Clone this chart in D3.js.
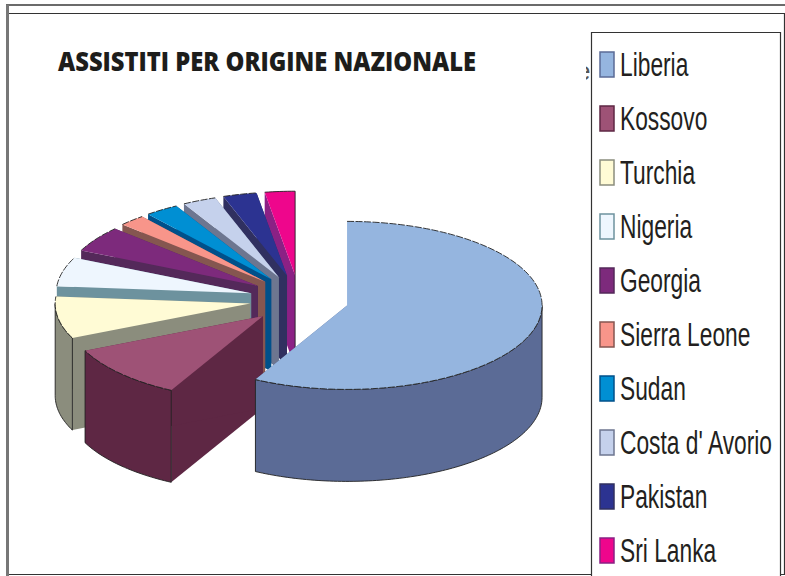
<!DOCTYPE html>
<html>
<head>
<meta charset="utf-8">
<script src="https://cdn.jsdelivr.net/npm/d3@7"></script>
<style>
  html, body { margin: 0; padding: 0; background: #fff; overflow: hidden; }
</style>
</head>
<body>
<div id="chart"></div>
<script>
var titleText = "ASSISTITI PER ORIGINE NAZIONALE";
var categories = ["Liberia", "Kossovo", "Turchia", "Nigeria", "Georgia", "Sierra Leone", "Sudan", "Costa d' Avorio", "Pakistan", "Sri Lanka"];
var shares = [57.9, 10.5, 8.1, 5.6, 5.0, 2.2, 2.8, 2.8, 2.8, 2.5];
var topColors = ["#95b5df", "#9e5276", "#fffbd5", "#eef6fe", "#7d2a7c", "#f8958a", "#008fd3", "#c5d1ec", "#2c3391", "#ee068c"];
var sideColors = ["#5b6b96", "#5e2744", "#8b8d7d", "#6d929e", "#54295a", "#855650", "#00508a", "#6d7690", "#303060", "#8b2185"];

var width = 785,
    height = 576;

var svg = d3.select("#chart").append("svg")
    .attr("width", width)
    .attr("height", height)
    .style("display", "block");

// frame
svg.append("path").attr("d", "M6,5H785").attr("stroke", "#6b6b6b").attr("stroke-width", 2).attr("fill", "none");
svg.append("path").attr("d", "M7.5,5V576").attr("stroke", "#777").attr("stroke-width", 3).attr("fill", "none");
svg.append("path").attr("d", "M9,13.5H784.5V574.5H9").attr("stroke", "#333").attr("stroke-width", 1.2).attr("fill", "none");

// title
svg.append("text")
    .attr("x", 58)
    .attr("y", 71)
    .attr("textLength", 418)
    .attr("lengthAdjust", "spacingAndGlyphs")
    .style("font-family", "'Open Sans', sans-serif")
    .style("font-weight", 800)
    .style("font-size", "27px")
    .style("fill", "#1d1d1b")
    .text(titleText);

// pie: unit coordinates run through the two scales, depth is added in pixels
var x = d3.scaleLinear().domain([-1, 1]).range([104, 494]);
var y = d3.scaleLinear().domain([-1, 1]).range([215.5, 383.5]);
var depth = 92,
    explodeX = 0.254,
    explodeY = 0.29;

var pie = d3.pie().sort(null).value(function(d) { return d; });
var arcs = pie(shares);

function apex(d) {
  var mid = (d.startAngle + d.endAngle) / 2;
  return [explodeX * Math.sin(mid), -explodeY * Math.cos(mid)];
}

function rim(d, a, dz) {
  var c = apex(d);
  return [x(c[0] + Math.sin(a)), y(c[1] - Math.cos(a)) + (dz || 0)];
}

function rimPoints(d, a0, a1, dz) {
  var n = Math.max(2, Math.ceil((a1 - a0) / 0.02));
  return d3.range(n + 1).map(function(i) {
    return rim(d, a0 + (a1 - a0) * i / n, dz);
  });
}

var line = d3.line();
var g = svg.append("g");

// painter's order: from the back slice to the front one
d3.range(arcs.length - 1, -1, -1).forEach(function(i) {
  var d = arcs[i];
  var c = [x(apex(d)[0]), y(apex(d)[1])];

  [d.startAngle, d.endAngle].forEach(function(a) {
    var p = rim(d, a);
    g.append("path")
      .attr("d", line([c, p, [p[0], p[1] + depth], [c[0], c[1] + depth]]) + "Z")
      .attr("fill", sideColors[i]);
  });

  var a0 = Math.max(d.startAngle, Math.PI / 2),
      a1 = Math.min(d.endAngle, Math.PI * 1.5);
  if (a1 > a0) {
    var wall = rimPoints(d, a0, a1).concat(rimPoints(d, a0, a1, depth).reverse());
    g.append("path")
      .attr("d", line(wall) + "Z")
      .attr("fill", sideColors[i])
      .attr("stroke", "#222")
      .attr("stroke-width", 0.9);
  }

  g.append("path")
    .attr("d", line([c].concat(rimPoints(d, d.startAngle, d.endAngle))) + "Z")
    .attr("fill", topColors[i]);

  g.append("path")
    .attr("d", line(rimPoints(d, d.startAngle, d.endAngle)))
    .attr("fill", "none")
    .attr("stroke", "#222")
    .attr("stroke-width", 0.9)
    .attr("stroke-dasharray", i == 9 ? null : "7 1.5");

  // the last slice keeps its straight right edge
  if (i == 9) {
    g.append("path")
      .attr("d", line([rim(d, d.endAngle), c, [c[0], c[1] + depth]]))
      .attr("fill", "none")
      .attr("stroke", "#222")
      .attr("stroke-width", 0.9);
  }
});

// legend
var legendY = d3.scalePoint().domain(categories).range([63.5, 549.5]);

svg.append("clipPath").attr("id", "behind")
  .append("rect").attr("x", 586).attr("y", 40).attr("width", 5).attr("height", 60);
svg.append("text")
    .attr("x", 576)
    .attr("y", 80)
    .attr("clip-path", "url(#behind)")
    .style("font-family", "'Liberation Sans', sans-serif")
    .style("font-size", "26px")
    .style("fill", "#555")
    .text("e");

svg.append("path")
    .attr("d", "M591.5,576V32.5H780.5V576")
    .attr("fill", "#fff")
    .attr("stroke", "#333")
    .attr("stroke-width", 1.2);

var legend = svg.selectAll(".legend")
    .data(categories)
  .enter().append("g")
    .attr("class", "legend")
    .attr("transform", function(d) { return "translate(0," + legendY(d) + ")"; });

legend.append("rect")
    .attr("x", 600)
    .attr("y", -11.5)
    .attr("width", 14)
    .attr("height", 25)
    .attr("fill", function(d, i) { return topColors[i]; })
    .attr("stroke", function(d, i) { return sideColors[i]; })
    .attr("stroke-width", 1.5);

legend.append("text")
    .attr("transform", "translate(620,12.5) scale(0.67,1)")
    .style("font-family", "'Liberation Sans', sans-serif")
    .style("font-size", "34px")
    .style("fill", "#231f20")
    .text(function(d) { return d; });
</script>
</body>
</html>
